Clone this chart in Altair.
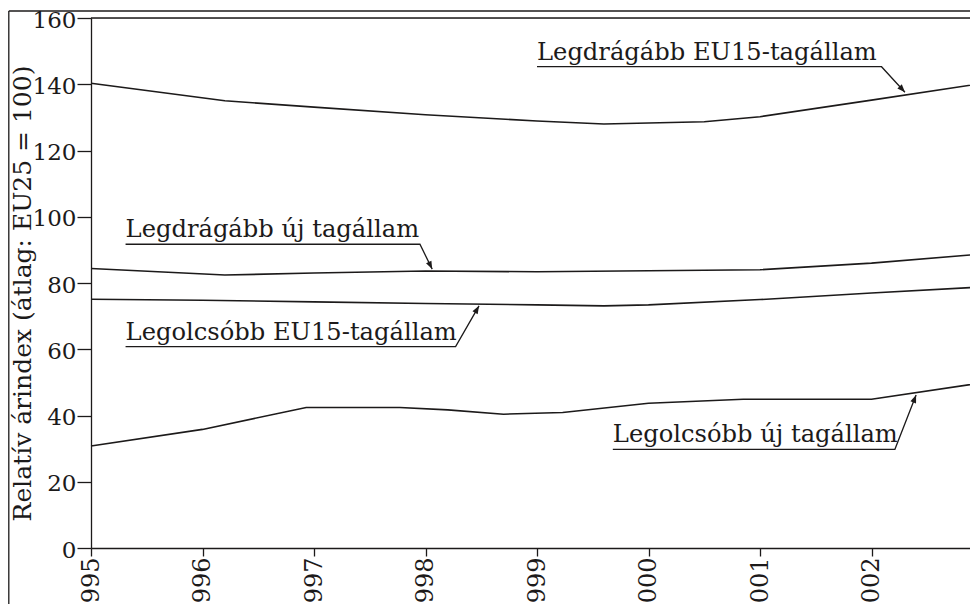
import math
import altair as alt
import pandas as pd

# ---- series ----
yrs_eu15_max = [1995, 1996.2, 1997, 1998, 1999, 1999.6, 2000.5, 2001, 2002, 2003]
val_eu15_max = [140.3, 135.0, 133.1, 130.8, 128.9, 128.0, 128.7, 130.2, 135.2, 140.3]

yrs_new_max = [1995, 1996.2, 1997, 1998, 1999, 2000, 2001, 2002, 2003]
val_new_max = [84.4, 82.4, 83.0, 83.6, 83.4, 83.7, 84.0, 86.0, 88.8]

yrs_eu15_min = [1995, 1996, 1997, 1998, 1999, 1999.6, 2000, 2001, 2002, 2003]
val_eu15_min = [75.1, 74.8, 74.3, 73.8, 73.4, 73.1, 73.4, 75.0, 77.0, 78.8]

yrs_new_min = [1995, 1996, 1996.93, 1997.77, 1998.2, 1998.7, 1999.23, 2000, 2000.85, 2002, 2003]
val_new_min = [30.8, 35.8, 42.4, 42.4, 41.7, 40.4, 40.9, 43.7, 44.9, 44.9, 49.9]

series_names = ["Legdrágább EU15-tagállam", "Legdrágább új tagállam",
                "Legolcsóbb EU15-tagállam", "Legolcsóbb új tagállam"]

# ---- annotations ----
ann_labels = series_names
ann_text_x = [1999.0, 1995.31, 1995.31, 1999.68]
ann_line_y = [145.3, 91.7, 60.8, 29.8]
ann_end_x = [2002.09, 1997.95, 1998.27, 2002.21]
ann_tip_x = [2002.30, 1998.06, 1998.48, 2002.40]
ann_tip_y = [137.6, 84.2, 73.1, 46.2]

x_ticks = list(range(1995, 2004))
y_ticks = list(range(0, 161, 20))

# ---- layout (the picture is cut at its right edge, inside the year 2003) ----
PX_YEAR = 111.5
W, H = 879, 530
X_MAX = 1995 + W / PX_YEAR
PX_VAL = H / 160.0
FONT = "DejaVu Serif"
INK = "#1c1a1a"

rows = []
for name, xs, vs in zip(series_names,
                        [yrs_eu15_max, yrs_new_max, yrs_eu15_min, yrs_new_min],
                        [val_eu15_max, val_new_max, val_eu15_min, val_new_min]):
    for i, (x, v) in enumerate(zip(xs, vs)):
        rows.append({"series": name, "year": x, "value": v, "o": i})
lines_df = pd.DataFrame(rows)

poly = []
for i, name in enumerate(ann_labels):
    pts = [(ann_text_x[i], ann_line_y[i]), (ann_end_x[i], ann_line_y[i]),
           (ann_tip_x[i], ann_tip_y[i])]
    for j, (x, v) in enumerate(pts):
        poly.append({"lab": name, "year": x, "value": v, "o": j})
poly_df = pd.DataFrame(poly)

txt_df = pd.DataFrame({"lab": ann_labels, "year": ann_text_x, "value": ann_line_y})

tips = []
for i, name in enumerate(ann_labels):
    dx = (ann_tip_x[i] - ann_end_x[i]) * PX_YEAR
    dy = -(ann_tip_y[i] - ann_line_y[i]) * PX_VAL
    ang = math.degrees(math.atan2(dx, -dy)) % 360
    tips.append({"lab": name, "year": ann_tip_x[i], "value": ann_tip_y[i], "ang": ang})
tip_df = pd.DataFrame(tips)

xscale = alt.Scale(domain=[1995, X_MAX], nice=False, zero=False)
yscale = alt.Scale(domain=[0, 160], nice=False, zero=False)

x_enc = alt.X("year:Q", scale=xscale, title=None,
              axis=alt.Axis(values=x_ticks, format="d",
                            labelAngle=-90, tickSize=8,
                            labelPadding=1, labelFontSize=24, labelFont=FONT,
                            labelColor=INK, domainColor=INK, tickColor=INK,
                            domainWidth=1.3, tickWidth=1.3, grid=False, labelFlush=False,
                            labelOverlap=False, labelBound=False))
y_enc = alt.Y("value:Q", scale=yscale,
              title="Relatív árindex (átlag: EU25 = 100)",
              axis=alt.Axis(values=y_ticks, tickSize=14, labelPadding=1,
                            labelFontSize=23, labelFont=FONT, labelColor=INK,
                            labelOffset=2,
                            titleFont=FONT, titleFontSize=25, titleFontWeight="normal",
                            titleColor=INK, titleX=-69, titleY=H / 2 + 10,
                            titleAngle=-90, titleBaseline="middle", titleAlign="center",
                            domainColor=INK, tickColor=INK, domainWidth=1.3,
                            tickWidth=1.3, grid=False, labelFlush=False))

xs_plain = alt.X("year:Q", scale=xscale)
ys_plain = alt.Y("value:Q", scale=yscale)

lines = alt.Chart(lines_df).mark_line(color=INK, strokeWidth=1.6).encode(
    x=x_enc, y=y_enc, detail="series:N", order="o:Q")

leaders = alt.Chart(poly_df).mark_line(color=INK, strokeWidth=1.3).encode(
    x=xs_plain, y=ys_plain, detail="lab:N", order="o:Q")

texts = alt.Chart(txt_df).mark_text(align="left", baseline="alphabetic", dy=-7,
                                    font=FONT, fontSize=24.2, color=INK).encode(
    x=xs_plain, y=ys_plain, text="lab:N")

heads = alt.Chart(tip_df).mark_point(
    shape="M0,0 L0.38,1 L-0.38,1 Z", filled=True, color=INK, opacity=1,
    size=250, strokeWidth=0).encode(
    x=xs_plain, y=ys_plain, angle=alt.Angle("ang:Q", scale=None))

frame_left = alt.Chart(pd.DataFrame({"k": [0]})).mark_rule(color=INK, strokeWidth=1.3).encode(
    x=alt.value(-82.2), y=alt.value(-7), y2=alt.value(H + 200))
frame_top = alt.Chart(pd.DataFrame({"k": [0]})).mark_rule(color=INK, strokeWidth=1.3).encode(
    x=alt.value(-82.2), x2=alt.value(W + 50), y=alt.value(-7))
plot_top = alt.Chart(pd.DataFrame({"k": [0]})).mark_rule(color=INK, strokeWidth=1.3).encode(
    x=alt.value(0), x2=alt.value(W + 50), y=alt.value(0))

chart = alt.layer(lines, leaders, texts, heads, frame_left, frame_top, plot_top).properties(
    width=W, height=H,
    autosize=alt.AutoSizeParams(type="none"),
    padding={"left": 83, "top": 10, "right": 0, "bottom": 56},
).configure_view(stroke=None).configure(background="white")

chart.save("out.html", embed_options={"renderer": "svg", "actions": False})
